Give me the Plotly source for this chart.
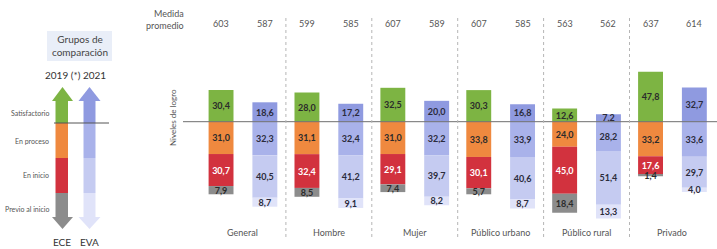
import plotly.graph_objects as go

# ---------------- data ----------------
categories = ["General", "Hombre", "Mujer", "Público urbano", "Público rural", "Privado"]

ece_satisfactorio = [30.4, 28.0, 32.5, 30.3, 12.6, 47.8]
ece_proceso = [31.0, 31.1, 31.0, 33.8, 24.0, 33.2]
ece_inicio = [30.7, 32.4, 29.1, 30.1, 45.0, 17.6]
ece_previo = [7.9, 8.5, 7.4, 5.7, 18.4, 1.4]

eva_satisfactorio = [18.6, 17.2, 20.0, 16.8, 7.2, 32.7]
eva_proceso = [32.3, 32.4, 32.2, 33.9, 28.2, 33.6]
eva_inicio = [40.5, 41.2, 39.7, 40.6, 51.4, 29.7]
eva_previo = [8.7, 9.1, 8.2, 8.7, 13.3, 4.0]

ece_promedio = [603, 599, 607, 607, 563, 637]
eva_promedio = [587, 585, 589, 585, 562, 614]

# ---------------- styling ----------------
W, H = 717, 249
FONT = "Lato"
ECE_COLORS = ["#7db443", "#ef893f", "#d2323e", "#8c8c8c"]
EVA_COLORS = ["#8f9ae0", "#a9b2ea", "#c5cbf1", "#e0e3f9"]
BAR_W = 0.29
ECE_OFF = -0.40
EVA_OFF = 0.11


def fmt(v):
    return f"{v:.1f}".replace(".", ",")


def px_x(p):
    return p / W


def px_y(p):
    return 1 - p / H


fig = go.Figure()


def add_stack(sat, proc, ini, prev, colors, offset, textcolors):
    n = len(categories)
    fig.add_trace(go.Bar(
        x=categories, y=sat, base=[0] * n, width=BAR_W, offset=offset,
        marker=dict(color=colors[0], line=dict(width=0)),
        text=[fmt(v) for v in sat], textfont=dict(color=textcolors[0]),
    ))
    neg_proc = [-v for v in proc]
    fig.add_trace(go.Bar(
        x=categories, y=neg_proc, base=[0] * n, width=BAR_W, offset=offset,
        marker=dict(color=colors[1], line=dict(width=0)),
        text=[fmt(v) for v in proc], textfont=dict(color=textcolors[1]),
    ))
    fig.add_trace(go.Bar(
        x=categories, y=[-v for v in ini], base=neg_proc, width=BAR_W, offset=offset,
        marker=dict(color=colors[2], line=dict(width=0)),
        text=[fmt(v) for v in ini], textfont=dict(color=textcolors[2]),
    ))
    fig.add_trace(go.Bar(
        x=categories, y=[-v for v in prev], base=[-(a + b) for a, b in zip(proc, ini)],
        width=BAR_W, offset=offset,
        marker=dict(color=colors[3], line=dict(width=0)),
        text=[fmt(v) for v in prev], textfont=dict(color=textcolors[3]),
    ))


add_stack(ece_satisfactorio, ece_proceso, ece_inicio, ece_previo, ECE_COLORS, ECE_OFF,
          ["#2b2b2b", "#2b2b2b", "#ffffff", "#2b2b2b"])
add_stack(eva_satisfactorio, eva_proceso, eva_inicio, eva_previo, EVA_COLORS, EVA_OFF,
          ["#2b2b3b", "#2b2b3b", "#2b2b3b", "#2b2b3b"])

fig.update_traces(textposition="inside", insidetextanchor="middle", textangle=0,
                  cliponaxis=False, hoverinfo="skip",
                  textfont=dict(family=FONT, size=9, weight="bold"))

shapes = []
annotations = []

# baseline
shapes.append(dict(type="line", xref="paper", yref="y", x0=px_x(183), x1=1, y0=0, y1=0,
                   line=dict(color="#6e6e6e", width=1)))

# dotted separators between groups
for i in range(len(categories) - 1):
    shapes.append(dict(type="line", xref="x", yref="paper", x0=i + 0.5, x1=i + 0.5,
                       y0=px_y(237), y1=px_y(16), line=dict(color="#b5b5b5", width=1, dash="dot")))

# header: medida promedio
annotations.append(dict(text="Medida<br>promedio", xref="paper", yref="paper", x=px_x(186), y=px_y(19),
                        xanchor="right", yanchor="middle", align="right", showarrow=False,
                        font=dict(family=FONT, size=9, color="#555555")))
for i, cat in enumerate(categories):
    annotations.append(dict(text=str(ece_promedio[i]), xref="x", yref="paper",
                            x=i + ECE_OFF + BAR_W / 2, y=px_y(23), showarrow=False,
                            xanchor="center", yanchor="middle",
                            font=dict(family=FONT, size=9, color="#555555")))
    annotations.append(dict(text=str(eva_promedio[i]), xref="x", yref="paper",
                            x=i + EVA_OFF + BAR_W / 2, y=px_y(23), showarrow=False,
                            xanchor="center", yanchor="middle",
                            font=dict(family=FONT, size=9, color="#555555")))
    annotations.append(dict(text=cat, xref="x", yref="paper", x=i, y=px_y(232), showarrow=False,
                            xanchor="center", yanchor="middle",
                            font=dict(family=FONT, size=9, color="#555555")))

# y-axis title
annotations.append(dict(text="Niveles de logro", xref="paper", yref="paper", x=px_x(173), y=px_y(118),
                        textangle=-90, showarrow=False, xanchor="center", yanchor="middle",
                        font=dict(family=FONT, size=8, color="#555555")))

# ---------------- left legend panel ----------------
shapes.append(dict(type="rect", xref="paper", yref="paper", x0=px_x(47), x1=px_x(112),
                   y0=px_y(61), y1=px_y(31), fillcolor="#e9eef8", line=dict(width=0), layer="below"))
annotations.append(dict(text="Grupos de<br>comparación", xref="paper", yref="paper",
                        x=px_x(79.5), y=px_y(46), showarrow=False, xanchor="center", yanchor="middle",
                        align="center", font=dict(family=FONT, size=10, color="#444444")))
annotations.append(dict(text="2019 (*) 2021", xref="paper", yref="paper", x=px_x(75), y=px_y(75),
                        showarrow=False, xanchor="center", yanchor="middle",
                        font=dict(family=FONT, size=10, color="#333333")))


def rect_px(x0, x1, y0, y1, color):
    shapes.append(dict(type="rect", xref="paper", yref="paper", x0=px_x(x0), x1=px_x(x1),
                       y0=px_y(y1), y1=px_y(y0), fillcolor=color, line=dict(width=0)))


def tri_px(xl, xr, ybase, ytip, color):
    xm = (xl + xr) / 2
    path = (f"M {px_x(xl)} {px_y(ybase)} L {px_x(xr)} {px_y(ybase)} "
            f"L {px_x(xm)} {px_y(ytip)} Z")
    shapes.append(dict(type="path", xref="paper", yref="paper", path=path,
                       fillcolor=color, line=dict(width=0)))


def legend_arrow(bx0, bx1, hx0, hx1, colors):
    tri_px(hx0, hx1, 101, 87, colors[0])
    rect_px(bx0, bx1, 100.5, 123, colors[0])
    rect_px(bx0, bx1, 123, 158, colors[1])
    rect_px(bx0, bx1, 158, 193, colors[2])
    rect_px(bx0, bx1, 193, 217.5, colors[3])
    tri_px(hx0, hx1, 217, 229, colors[3])


legend_arrow(55.5, 68, 52, 73, ECE_COLORS)
legend_arrow(83.5, 95.5, 78.5, 100.5, EVA_COLORS)
shapes.append(dict(type="line", xref="paper", yref="paper", x0=px_x(54), x1=px_x(109),
                   y0=px_y(123), y1=px_y(123), line=dict(color="#555555", width=1)))

for label, ypix in [("Satisfactorio", 113), ("En proceso", 141), ("En inicio", 175),
                    ("Previo al inicio", 209)]:
    annotations.append(dict(text=label, xref="paper", yref="paper", x=px_x(51), y=px_y(ypix),
                            xanchor="right", yanchor="middle", showarrow=False,
                            font=dict(family=FONT, size=7, color="#555555")))
annotations.append(dict(text="ECE", xref="paper", yref="paper", x=px_x(62), y=px_y(242),
                        xanchor="center", yanchor="middle", showarrow=False,
                        font=dict(family=FONT, size=10, color="#333333")))
annotations.append(dict(text="EVA", xref="paper", yref="paper", x=px_x(89), y=px_y(242),
                        xanchor="center", yanchor="middle", showarrow=False,
                        font=dict(family=FONT, size=10, color="#333333")))

scale = 1.043
baseline_px = 121.7
fig.update_layout(
    width=W, height=H,
    margin=dict(l=0, r=0, t=0, b=0),
    paper_bgcolor="white", plot_bgcolor="white",
    barmode="overlay", showlegend=False,
    uniformtext=dict(minsize=9, mode="show"),
    xaxis=dict(type="category", domain=[px_x(200), px_x(715.4)], range=[-0.5, 5.5],
               visible=False, fixedrange=True),
    yaxis=dict(domain=[0, 1], range=[-(H - baseline_px) / scale, baseline_px / scale],
               visible=False, fixedrange=True),
    shapes=shapes, annotations=annotations,
    font=dict(family=FONT),
)

fig.write_html("out.html", config={"displayModeBar": False},
               post_script="document.body.style.margin='0';document.body.style.overflow='hidden';")
